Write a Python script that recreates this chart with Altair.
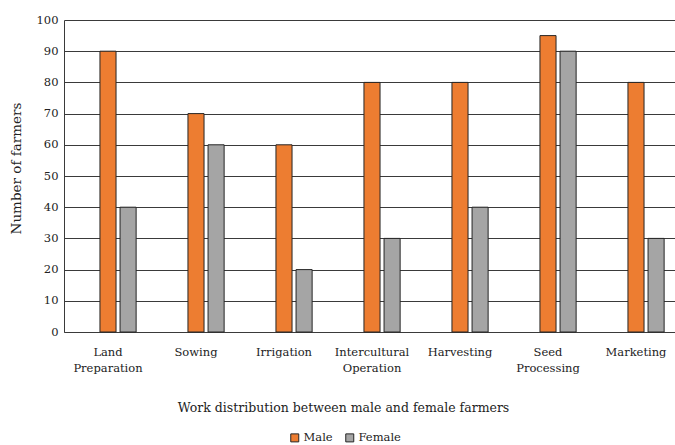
import altair as alt
import pandas as pd

categories = ["Land Preparation", "Sowing", "Irrigation", "Intercultural Operation",
              "Harvesting", "Seed Processing", "Marketing"]
male = [90, 70, 60, 80, 80, 95, 80]
female = [40, 60, 20, 30, 40, 90, 30]
series = ["Male", "Female"]
colors = ["#ED7D31", "#A5A5A5"]

rows = []
for c, m, f in zip(categories, male, female):
    rows.append({"Activity": c, "Gender": "Male", "Farmers": m})
    rows.append({"Activity": c, "Gender": "Female", "Farmers": f})
df = pd.DataFrame(rows)

FONT = "DejaVu Serif"
LINE = "#3a3a3a"

chart = alt.Chart(df).mark_bar(stroke="#262626", strokeWidth=1).encode(
    x=alt.X("Activity:N", sort=categories,
            scale=alt.Scale(range=[0, 616], paddingInner=0, paddingOuter=0),
            axis=alt.Axis(title="Work distribution between male and female farmers",
                          labelAngle=0, labelExpr="split(datum.label, ' ')",
                          labelFont=FONT, titleFont=FONT,
                          labelFontSize=11.5, labelPadding=14, labelLineHeight=16,
                          labelColor="#222", ticks=False, domainColor=LINE,
                          titleFontSize=12.5, titleFontWeight="normal", titleColor="#222",
                          titleX=279, titleY=75, titleAlign="center", titleBaseline="middle")),
    xOffset=alt.XOffset("Gender:N",
                        scale=alt.Scale(domain=["pad", "Male", "Female"],
                                        paddingInner=0.2, paddingOuter=0.79)),
    y=alt.Y("Farmers:Q",
            scale=alt.Scale(domain=[0, 100], nice=False),
            axis=alt.Axis(title="Number of farmers", values=list(range(0, 101, 10)),
                          labelFont=FONT, titleFont=FONT,
                          labelFontSize=11.5, labelPadding=6, labelColor="#222",
                          ticks=False, domainColor=LINE,
                          gridColor=LINE, gridWidth=1,
                          titleFontSize=13.5, titleFontWeight="normal", titleColor="#222",
                          titleX=-48, titleY=148, titleAngle=270,
                          titleAlign="center", titleBaseline="middle")),
    color=alt.Color("Gender:N",
                    scale=alt.Scale(domain=series, range=colors),
                    legend=alt.Legend(title=None, orient="none", direction="horizontal",
                                      legendX=225, legendY=412,
                                      symbolType="square", symbolSize=64,
                                      symbolStrokeColor="#262626", symbolStrokeWidth=1,
                                      labelFont=FONT,
                                      labelFontSize=11.5, labelColor="#222",
                                      columnPadding=10, labelOffset=3)),
).properties(
    width=608, height=312,
    autosize=alt.AutoSizeParams(type="none"),
    padding={"left": 64, "top": 20, "right": 3, "bottom": 113},
).configure(
    font=FONT
).configure_view(strokeWidth=0)

chart.save("out.html", embed_options={"renderer": "svg", "actions": False})
